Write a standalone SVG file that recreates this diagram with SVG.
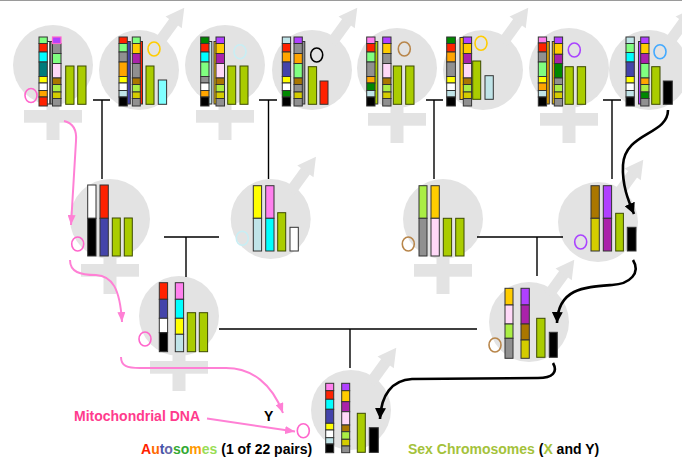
<svg xmlns="http://www.w3.org/2000/svg" xmlns:xlink="http://www.w3.org/1999/xlink" width="682" height="460" viewBox="0 0 682 460">
<style>
.sym{fill:#e3e3e3}
.c{stroke:#333;stroke-width:1}
.x{fill:#aacc00;stroke:#3d4a00;stroke-width:1}
.mt{fill:none;stroke-width:1.6}
.ln{fill:none;stroke:#000;stroke-width:1.4}
.pk{fill:none;stroke:#ff80d5;stroke-width:2}
.bk{fill:none;stroke:#000;stroke-width:2.6}
text{font-family:"Liberation Sans",Arial,sans-serif;font-weight:bold;font-size:14px}
</style>
<defs>
  <!-- Venus sign: circle with a cross below -->
  <g id="female" class="sym">
    <circle r="40"/>
    <rect x="-6.5" y="35" width="13" height="40"/>
    <rect x="-29" y="45" width="58" height="12.7"/>
  </g>
  <!-- Mars sign: circle with an arrow to the upper right -->
  <g id="male" class="sym">
    <circle r="40"/>
    <g transform="rotate(-54)">
      <rect x="34" y="-5.5" width="28" height="11"/>
      <polygon points="59,-10 77,0 59,10"/>
    </g>
  </g>
  <marker id="ap" markerUnits="userSpaceOnUse" viewBox="0 0 10 8" markerWidth="10" markerHeight="8" refX="10" refY="4" orient="auto">
    <path d="M0,0 L10,4 L0,8 z" fill="#ff80d5"/>
  </marker>
  <marker id="ab" markerUnits="userSpaceOnUse" viewBox="0 0 10 10" markerWidth="11" markerHeight="11" refX="10" refY="5" orient="auto">
    <path d="M0,0 L10,5 L0,10 z" fill="#000"/>
  </marker>
</defs>

<line x1="0" y1="0.5" x2="682" y2="0.5" stroke="#9a9a9a" stroke-width="1"/>

<!-- generation 1 -->
<g id="female-1">
  <use href="#female" x="53" y="65"/>
  <rect class="c" x="41.5" y="41.5" width="8.3" height="62.5" fill="#fff"/>
  <g class="c">
    <rect x="39" y="37" width="8.3" height="6.5" fill="#80ff80"/>
    <rect x="39" y="43.5" width="8.3" height="8.5" fill="#ff2200"/>
    <rect x="39" y="52" width="8.3" height="10" fill="#00ffff"/>
    <rect x="39" y="62" width="8.3" height="14.5" fill="#007b7b"/>
    <rect x="39" y="76.5" width="8.3" height="6.5" fill="#ffff00"/>
    <rect x="39" y="83" width="8.3" height="7.5" fill="#fff"/>
    <rect x="39" y="90.5" width="8.3" height="6.5" fill="#ffa500"/>
    <rect x="39" y="97" width="8.3" height="9" fill="#ff2200"/>
  </g>
  <rect class="c" x="50.3" y="41.5" width="8.3" height="62.5" fill="#909090"/>
  <g class="c">
    <rect x="52.5" y="43.5" width="8.5" height="10" fill="#909090"/>
    <rect x="52.5" y="53.5" width="8.5" height="10" fill="#80ff80"/>
    <rect x="52.5" y="63.5" width="8.5" height="14.5" fill="#ffd9f8"/>
    <rect x="52.5" y="78" width="8.5" height="6.5" fill="#aa7700"/>
    <rect x="52.5" y="84.5" width="8.5" height="7.5" fill="#aaee44"/>
    <rect x="52.5" y="92" width="8.5" height="6.5" fill="#d4cc00"/>
    <rect x="52.5" y="98.5" width="8.5" height="7.5" fill="#909090"/>
  </g>
  <rect x="52.5" y="37" width="8.5" height="6.5" fill="#b040ff" stroke="#ff66cc" stroke-width="1.2"/>
  <rect class="x" x="65.7" y="66" width="8.3" height="38.3"/>
  <rect class="x" x="77.7" y="66" width="8.3" height="38.3"/>
  <ellipse class="mt" cx="31" cy="95.5" rx="6" ry="7" stroke="#ff66cc"/>
</g>

<g id="male-2">
  <use href="#male" x="139" y="70"/>
  <rect class="c" x="122" y="41.5" width="8.3" height="62.5" fill="#4444aa"/>
  <g class="c">
    <rect x="119" y="37" width="8.3" height="6.5" fill="#ff2200"/>
    <rect x="119" y="43.5" width="8.3" height="8.5" fill="#80ff80"/>
    <rect x="119" y="52" width="8.3" height="10" fill="#909090"/>
    <rect x="119" y="62" width="8.3" height="14.5" fill="#ffa500"/>
    <rect x="119" y="76.5" width="8.3" height="6.5" fill="#ffff00"/>
    <rect x="119" y="83" width="8.3" height="7.5" fill="#fff"/>
    <rect x="119" y="90.5" width="8.3" height="6.5" fill="#c0e4e8"/>
    <rect x="119" y="97" width="8.3" height="9" fill="#000"/>
  </g>
  <rect class="c" x="134.5" y="41.5" width="8" height="62.5" fill="#ff2200"/>
  <g class="c">
    <rect x="132.3" y="37" width="8" height="6.5" fill="#80ff80"/>
    <rect x="132.3" y="43.5" width="8" height="10" fill="#ffcc00"/>
    <rect x="132.3" y="53.5" width="8" height="10" fill="#aa22aa"/>
    <rect x="132.3" y="63.5" width="8" height="14.5" fill="#909090"/>
    <rect x="132.3" y="78" width="8" height="6.5" fill="#aa7700"/>
    <rect x="132.3" y="84.5" width="8" height="7.5" fill="#aaee44"/>
    <rect x="132.3" y="92" width="8" height="6.5" fill="#d4cc00"/>
    <rect x="132.3" y="98.5" width="8" height="7.5" fill="#909090"/>
  </g>
  <rect class="x" x="146" y="66" width="8" height="38.3"/>
  <rect class="c" x="158.3" y="80" width="8.3" height="24.3" fill="#80ffff"/>
  <ellipse class="mt" cx="154" cy="49" rx="6" ry="7" stroke="#ffcc00"/>
</g>

<g id="female-3">
  <use href="#female" x="225" y="65"/>
  <rect class="c" x="203.5" y="41.5" width="8.3" height="62.5" fill="#c0e4e8"/>
  <g class="c">
    <rect x="200.7" y="37" width="8.3" height="6.5" fill="#008800"/>
    <rect x="200.7" y="43.5" width="8.3" height="8.5" fill="#ff2200"/>
    <rect x="200.7" y="52" width="8.3" height="10" fill="#00ffff"/>
    <rect x="200.7" y="62" width="8.3" height="14.5" fill="#80ff80"/>
    <rect x="200.7" y="76.5" width="8.3" height="6.5" fill="#909090"/>
    <rect x="200.7" y="83" width="8.3" height="7.5" fill="#fff"/>
    <rect x="200.7" y="90.5" width="8.3" height="6.5" fill="#ffa500"/>
    <rect x="200.7" y="97" width="8.3" height="9" fill="#000"/>
  </g>
  <rect class="c" x="214" y="41.5" width="8.3" height="62.5" fill="#ffcc00"/>
  <g class="c">
    <rect x="216" y="37" width="8.5" height="6.5" fill="#b040ff"/>
    <rect x="216" y="43.5" width="8.5" height="10" fill="#ffcc00"/>
    <rect x="216" y="53.5" width="8.5" height="10" fill="#aa22aa"/>
    <rect x="216" y="63.5" width="8.5" height="14.5" fill="#ffd9f8"/>
    <rect x="216" y="78" width="8.5" height="6.5" fill="#aa7700"/>
    <rect x="216" y="84.5" width="8.5" height="7.5" fill="#aaee44"/>
    <rect x="216" y="92" width="8.5" height="6.5" fill="#d4cc00"/>
    <rect x="216" y="98.5" width="8.5" height="7.5" fill="#909090"/>
  </g>
  <rect class="x" x="227.7" y="66" width="8" height="38.3"/>
  <rect class="x" x="240" y="66" width="8" height="38.3"/>
  <ellipse class="mt" cx="240" cy="51.7" rx="6" ry="7" stroke="#c8eef4"/>
</g>

<g id="male-4">
  <use href="#male" x="312" y="70"/>
  <g class="c">
    <rect x="282.3" y="37" width="8.3" height="6.5" fill="#c0e4e8"/>
    <rect x="282.3" y="43.5" width="8.3" height="8.5" fill="#ff2200"/>
    <rect x="282.3" y="52" width="8.3" height="10" fill="#ffa500"/>
    <rect x="282.3" y="62" width="8.3" height="14.5" fill="#4444aa"/>
    <rect x="282.3" y="76.5" width="8.3" height="6.5" fill="#ffff00"/>
    <rect x="282.3" y="83" width="8.3" height="7.5" fill="#fff"/>
    <rect x="282.3" y="90.5" width="8.3" height="6.5" fill="#008800"/>
    <rect x="282.3" y="97" width="8.3" height="9" fill="#000"/>
  </g>
  <rect class="c" x="296.5" y="41.5" width="8.3" height="62.5" fill="#909090"/>
  <g class="c">
    <rect x="294" y="37" width="8.3" height="6.5" fill="#b040ff"/>
    <rect x="294" y="43.5" width="8.3" height="10" fill="#909090"/>
    <rect x="294" y="53.5" width="8.3" height="10" fill="#ffa500"/>
    <rect x="294" y="63.5" width="8.3" height="14.5" fill="#80ff80"/>
    <rect x="294" y="78" width="8.3" height="6.5" fill="#aa7700"/>
    <rect x="294" y="84.5" width="8.3" height="7.5" fill="#909090"/>
    <rect x="294" y="92" width="8.3" height="6.5" fill="#d4cc00"/>
    <rect x="294" y="98.5" width="8.3" height="7.5" fill="#909090"/>
  </g>
  <rect class="x" x="308.3" y="66.7" width="8.3" height="37.6"/>
  <rect class="c" x="320" y="81" width="8" height="23.3" fill="#ff2200"/>
  <ellipse class="mt" cx="316.7" cy="55" rx="6" ry="7" stroke="#000"/>
</g>

<g id="female-5">
  <use href="#female" x="397" y="68"/>
  <rect class="c" x="369.5" y="41.5" width="8.3" height="62.5" fill="#aacc00"/>
  <g class="c">
    <rect x="366.7" y="37" width="8.3" height="6.5" fill="#ff80ee"/>
    <rect x="366.7" y="43.5" width="8.3" height="8.5" fill="#ff2200"/>
    <rect x="366.7" y="52" width="8.3" height="10" fill="#80ff80"/>
    <rect x="366.7" y="62" width="8.3" height="14.5" fill="#909090"/>
    <rect x="366.7" y="76.5" width="8.3" height="6.5" fill="#ffa500"/>
    <rect x="366.7" y="83" width="8.3" height="7.5" fill="#008800"/>
    <rect x="366.7" y="90.5" width="8.3" height="6.5" fill="#c0e4e8"/>
    <rect x="366.7" y="97" width="8.3" height="9" fill="#000"/>
  </g>
  <g class="c">
    <rect x="382.7" y="37" width="8.3" height="6.5" fill="#b040ff"/>
    <rect x="382.7" y="43.5" width="8.3" height="10" fill="#ffcc00"/>
    <rect x="382.7" y="53.5" width="8.3" height="10" fill="#909090"/>
    <rect x="382.7" y="63.5" width="8.3" height="14.5" fill="#ffd9f8"/>
    <rect x="382.7" y="78" width="8.3" height="6.5" fill="#aa7700"/>
    <rect x="382.7" y="84.5" width="8.3" height="7.5" fill="#aaee44"/>
    <rect x="382.7" y="92" width="8.3" height="6.5" fill="#d4cc00"/>
    <rect x="382.7" y="98.5" width="8.3" height="7.5" fill="#909090"/>
  </g>
  <rect class="x" x="393.3" y="66" width="8.3" height="38.3"/>
  <rect class="x" x="405.7" y="66" width="8.3" height="38.3"/>
  <ellipse class="mt" cx="404.3" cy="49" rx="6" ry="7" stroke="#b8864b"/>
</g>

<g id="male-6">
  <use href="#male" x="483" y="70"/>
  <g class="c">
    <rect x="446.7" y="37" width="8.7" height="6.5" fill="#008800"/>
    <rect x="446.7" y="43.5" width="8.7" height="8.5" fill="#ff2200"/>
    <rect x="446.7" y="52" width="8.7" height="10" fill="#ffa500"/>
    <rect x="446.7" y="62" width="8.7" height="14.5" fill="#909090"/>
    <rect x="446.7" y="76.5" width="8.7" height="6.5" fill="#ffff00"/>
    <rect x="446.7" y="83" width="8.7" height="7.5" fill="#fff"/>
    <rect x="446.7" y="90.5" width="8.7" height="6.5" fill="#c0e4e8"/>
    <rect x="446.7" y="97" width="8.7" height="9" fill="#000"/>
  </g>
  <rect class="c" x="460" y="37.5" width="8" height="62" fill="#ffcc00"/>
  <g class="c">
    <rect x="463.3" y="37" width="8.3" height="6.5" fill="#b040ff"/>
    <rect x="463.3" y="43.5" width="8.3" height="10" fill="#ffcc00"/>
    <rect x="463.3" y="53.5" width="8.3" height="10" fill="#aa22aa"/>
    <rect x="463.3" y="63.5" width="8.3" height="14.5" fill="#ffd9f8"/>
    <rect x="463.3" y="78" width="8.3" height="6.5" fill="#aa7700"/>
    <rect x="463.3" y="84.5" width="8.3" height="7.5" fill="#aaee44"/>
    <rect x="463.3" y="92" width="8.3" height="6.5" fill="#d4cc00"/>
    <rect x="463.3" y="98.5" width="8.3" height="7.5" fill="#909090"/>
  </g>
  <rect class="x" x="472.7" y="61" width="8" height="38.3"/>
  <rect class="c" x="485" y="75.7" width="8.3" height="23.6" fill="#c0e4e8"/>
  <ellipse class="mt" cx="481" cy="43.3" rx="6" ry="7" stroke="#ffcc00"/>
</g>

<g id="female-7">
  <use href="#female" x="569" y="68"/>
  <rect class="c" x="541" y="41.5" width="8.3" height="62.5" fill="#e0a000"/>
  <g class="c">
    <rect x="538.3" y="37" width="8.3" height="6" fill="#ff80ee"/>
    <rect x="538.3" y="43" width="8.3" height="9" fill="#ff2200"/>
    <rect x="538.3" y="52" width="8.3" height="10" fill="#909090"/>
    <rect x="538.3" y="62" width="8.3" height="14.5" fill="#80ff80"/>
    <rect x="538.3" y="76.5" width="8.3" height="6.5" fill="#ffff00"/>
    <rect x="538.3" y="83" width="8.3" height="7.5" fill="#ffa500"/>
    <rect x="538.3" y="90.5" width="8.3" height="6.5" fill="#c0e4e8"/>
    <rect x="538.3" y="97" width="8.3" height="9" fill="#000"/>
  </g>
  <rect class="c" x="552.3" y="41.5" width="8.3" height="62.5" fill="#ffcc00"/>
  <g class="c">
    <rect x="554.3" y="37" width="8.3" height="6.5" fill="#b040ff"/>
    <rect x="554.3" y="43.5" width="8.3" height="10.8" fill="#ffcc00"/>
    <rect x="554.3" y="54.3" width="8.3" height="9.2" fill="#aa22aa"/>
    <rect x="554.3" y="63.5" width="8.3" height="14.5" fill="#008800"/>
    <rect x="554.3" y="78" width="8.3" height="6.5" fill="#909090"/>
    <rect x="554.3" y="84.5" width="8.3" height="7.5" fill="#aaee44"/>
    <rect x="554.3" y="92" width="8.3" height="6.5" fill="#d4cc00"/>
    <rect x="554.3" y="98.5" width="8.3" height="7.5" fill="#909090"/>
  </g>
  <rect class="x" x="565" y="66.7" width="8.3" height="37.6"/>
  <rect class="x" x="577.3" y="66.7" width="8.3" height="37.6"/>
  <ellipse class="mt" cx="574.3" cy="50" rx="6" ry="7" stroke="#aa44ff"/>
</g>

<g id="male-8">
  <use href="#male" x="649" y="70"/>
  <g class="c">
    <rect x="626" y="37" width="8.3" height="6.5" fill="#c0e4e8"/>
    <rect x="626" y="43.5" width="8.3" height="9" fill="#80ff80"/>
    <rect x="626" y="52.5" width="8.3" height="9.5" fill="#00ffff"/>
    <rect x="626" y="62" width="8.3" height="14.5" fill="#4444aa"/>
    <rect x="626" y="76.5" width="8.3" height="6.5" fill="#ffff00"/>
    <rect x="626" y="83" width="8.3" height="7.5" fill="#fff"/>
    <rect x="626" y="90.5" width="8.3" height="6.5" fill="#c0e4e8"/>
    <rect x="626" y="97" width="8.3" height="9" fill="#000"/>
  </g>
  <rect class="c" x="638.5" y="41.5" width="8.3" height="62.5" fill="#b040ff"/>
  <g class="c">
    <rect x="640.7" y="37" width="8.3" height="6.5" fill="#b040ff"/>
    <rect x="640.7" y="43.5" width="8.3" height="10" fill="#ffcc00"/>
    <rect x="640.7" y="53.5" width="8.3" height="10" fill="#aa22aa"/>
    <rect x="640.7" y="63.5" width="8.3" height="14.5" fill="#80ff80"/>
    <rect x="640.7" y="78" width="8.3" height="6.5" fill="#ffa500"/>
    <rect x="640.7" y="84.5" width="8.3" height="7.5" fill="#aaee44"/>
    <rect x="640.7" y="92" width="8.3" height="6.5" fill="#008800"/>
    <rect x="640.7" y="98.5" width="8.3" height="7.5" fill="#909090"/>
  </g>
  <rect class="x" x="651.7" y="66.7" width="8.3" height="37.6"/>
  <rect class="c" x="663.3" y="81" width="9" height="23.3" fill="#000"/>
  <ellipse class="mt" cx="660" cy="51.7" rx="6" ry="7" stroke="#44aaff"/>
</g>

<!-- generation 2 -->
<g id="female-9">
  <use href="#female" x="110" y="219"/>
  <g class="c">
    <rect x="87.7" y="185" width="8.3" height="33.3" fill="#fff"/>
    <rect x="87.7" y="218.3" width="8.3" height="37.7" fill="#000"/>
    <rect x="100" y="185" width="8.3" height="33.3" fill="#ff2200"/>
    <rect x="100" y="218.3" width="8.3" height="37.7" fill="#4444aa"/>
  </g>
  <rect class="x" x="112.3" y="218" width="8" height="38"/>
  <rect class="x" x="124.3" y="218" width="8" height="38"/>
  <ellipse class="mt" cx="77.7" cy="244" rx="6" ry="7" stroke="#ff66cc"/>
</g>

<g id="male-10">
  <use href="#male" x="270.7" y="219"/>
  <g class="c">
    <rect x="253.3" y="185.7" width="8.3" height="32.6" fill="#ffff00"/>
    <rect x="253.3" y="218.3" width="8.3" height="32.7" fill="#c0e4e8"/>
    <rect x="265.7" y="185.7" width="8.3" height="32.6" fill="#ff80ee"/>
    <rect x="265.7" y="218.3" width="8.3" height="32.7" fill="#00ffff"/>
  </g>
  <rect class="x" x="277.7" y="212.7" width="8" height="38.3"/>
  <rect class="c" x="290" y="227.3" width="8.3" height="23.7" fill="#fff"/>
  <ellipse class="mt" cx="242.3" cy="238.3" rx="6" ry="7" stroke="#c8eef4"/>
</g>

<g id="female-11">
  <use href="#female" x="443" y="219"/>
  <g class="c">
    <rect x="419" y="185.7" width="8" height="32.6" fill="#aaee44"/>
    <rect x="419" y="218.3" width="8" height="37.7" fill="#909090"/>
    <rect x="431" y="185.7" width="8.3" height="32.6" fill="#ffcc00"/>
    <rect x="431" y="218.3" width="8.3" height="37.7" fill="#ffd9f8"/>
  </g>
  <rect class="x" x="443.3" y="218.3" width="8.3" height="37.7"/>
  <rect class="x" x="455.7" y="218.3" width="8.3" height="37.7"/>
  <ellipse class="mt" cx="408.3" cy="244" rx="6" ry="7" stroke="#b8864b"/>
</g>

<g id="male-12">
  <use href="#male" x="598" y="222"/>
  <g class="c">
    <rect x="591" y="185.7" width="8.3" height="32.6" fill="#aa7700"/>
    <rect x="591" y="218.3" width="8.3" height="32.7" fill="#d4cc00"/>
    <rect x="603.3" y="185.7" width="8.3" height="32.6" fill="#b040ff"/>
    <rect x="603.3" y="218.3" width="8.3" height="32.7" fill="#aa22aa"/>
  </g>
  <rect class="x" x="615.7" y="213.3" width="7.7" height="37.7"/>
  <rect class="c" x="627.3" y="227.3" width="8.7" height="23.7" fill="#000"/>
  <ellipse class="mt" cx="580.7" cy="242" rx="6" ry="7" stroke="#aa44ff"/>
</g>

<!-- generation 3 -->
<g id="female-13">
  <use href="#female" x="179" y="316"/>
  <g class="c">
    <rect x="159.3" y="282.7" width="8.3" height="16.6" fill="#ff2200"/>
    <rect x="159.3" y="299.3" width="8.3" height="19" fill="#4444aa"/>
    <rect x="159.3" y="318.3" width="8.3" height="14.4" fill="#fff"/>
    <rect x="159.3" y="332.7" width="8.3" height="19" fill="#000"/>
    <rect x="175.3" y="282.7" width="8.3" height="16.6" fill="#ff80ee"/>
    <rect x="175.3" y="299.3" width="8.3" height="19" fill="#00ffff"/>
    <rect x="175.3" y="318.3" width="8.3" height="16" fill="#ffff00"/>
    <rect x="175.3" y="334.3" width="8.3" height="17.4" fill="#c0e4e8"/>
  </g>
  <rect class="x" x="187.3" y="312.7" width="8.3" height="39"/>
  <rect class="x" x="199.3" y="312.7" width="8.3" height="39"/>
  <ellipse class="mt" cx="145" cy="339" rx="6" ry="7" stroke="#ff66cc"/>
</g>

<g id="male-14">
  <use href="#male" x="529" y="322"/>
  <g class="c">
    <rect x="505" y="288.3" width="8" height="16.7" fill="#ffcc00"/>
    <rect x="505" y="305" width="8" height="19" fill="#ffd9f8"/>
    <rect x="505" y="324" width="8" height="14.3" fill="#aaee44"/>
    <rect x="505" y="338.3" width="8" height="20" fill="#909090"/>
    <rect x="521" y="288.3" width="8.3" height="16.7" fill="#b040ff"/>
    <rect x="521" y="305" width="8.3" height="19" fill="#aa22aa"/>
    <rect x="521" y="324" width="8.3" height="16" fill="#aa7700"/>
    <rect x="521" y="340" width="8.3" height="18.3" fill="#d4cc00"/>
  </g>
  <rect class="x" x="536.7" y="318.3" width="8.3" height="39"/>
  <rect class="c" x="549.3" y="332.3" width="8" height="25" fill="#000"/>
  <ellipse class="mt" cx="495" cy="345" rx="6" ry="7" stroke="#b8864b"/>
</g>

<!-- generation 4 -->
<g id="male-15">
  <use href="#male" x="351" y="410"/>
  <g class="c">
    <rect x="325.7" y="383.3" width="8" height="7.4" fill="#ff80ee"/>
    <rect x="325.7" y="390.7" width="8" height="8.6" fill="#ff2200"/>
    <rect x="325.7" y="399.3" width="8" height="10" fill="#00ffff"/>
    <rect x="325.7" y="409.3" width="8" height="14" fill="#4444aa"/>
    <rect x="325.7" y="423.3" width="8" height="6.7" fill="#ffff00"/>
    <rect x="325.7" y="430" width="8" height="7.7" fill="#fff"/>
    <rect x="325.7" y="437.7" width="8" height="6.3" fill="#c0e4e8"/>
    <rect x="325.7" y="444" width="8" height="8.7" fill="#000"/>
    <rect x="341.7" y="383.3" width="8" height="7.4" fill="#b040ff"/>
    <rect x="341.7" y="390.7" width="8" height="11" fill="#ffcc00"/>
    <rect x="341.7" y="401.7" width="8" height="10" fill="#aa22aa"/>
    <rect x="341.7" y="411.7" width="8" height="13.3" fill="#ffd9f8"/>
    <rect x="341.7" y="425" width="8" height="6.7" fill="#aa7700"/>
    <rect x="341.7" y="431.7" width="8" height="7.6" fill="#aaee44"/>
    <rect x="341.7" y="439.3" width="8" height="6.7" fill="#d4cc00"/>
    <rect x="341.7" y="446" width="8" height="6.7" fill="#909090"/>
  </g>
  <rect class="x" x="357.3" y="413.3" width="8" height="39"/>
  <rect class="c" x="369.3" y="427.7" width="9" height="24.7" fill="#000"/>
  <ellipse class="mt" cx="303.3" cy="430.7" rx="6" ry="7" stroke="#ff66cc"/>
</g>

<!-- pedigree lines and inheritance arrows -->
<g id="connectors">
  <path class="ln" d="M93,100 H110 M102,100 V179"/>
  <path class="ln" d="M259,100 H277 M268.5,100 V179"/>
  <path class="ln" d="M426,100 H443 M434,100 V179"/>
  <path class="ln" d="M603,100 H621 M612,100 V179"/>
  <path class="ln" d="M164,237 H219 M186,237 V277"/>
  <path class="ln" d="M477,237 H563 M537,237 V276"/>
  <path class="ln" d="M219,329 H477 M350,329 V368"/>

  <path class="pk" marker-end="url(#ap)" d="M64,121 C73,123 77,129 76,141 L71,225"/>
  <path class="pk" marker-end="url(#ap)" d="M70,260 C70,272 80,275 96,275 C112,276 120,288 122,322"/>
  <path class="pk" marker-end="url(#ap)" d="M121,357 C121,366 127,368 140,368 L226,368 C252,368 272,384 283,413"/>
  <path class="pk" marker-end="url(#ap)" d="M207,418.5 L295,431.5"/>

  <path class="bk" marker-end="url(#ab)" d="M668,110 C668,135 625,132 623,165 C622,185 628,200 634,214"/>
  <path class="bk" marker-end="url(#ab)" d="M633,260 C641,273 630,284 612,285 C585,287 558,288 557,323"/>
  <path class="bk" marker-end="url(#ab)" d="M553,363 C558,372 553,378 538,378 L412,379 C392,380 381,395 380,419"/>
</g>

<g id="labels">
  <text x="74" y="420.5" fill="#ff3b8d">Mitochondrial DNA</text>
  <text x="264" y="420.5" fill="#000">Y</text>
  <text x="141" y="453.5"><tspan fill="#ff2200">A</tspan><tspan fill="#ff6a00">u</tspan><tspan fill="#4455aa">t</tspan><tspan fill="#6666aa">o</tspan><tspan fill="#33aa33">s</tspan><tspan fill="#33aa33">o</tspan><tspan fill="#ff9900">m</tspan><tspan fill="#99dd55">e</tspan><tspan fill="#99dd55">s</tspan><tspan fill="#000"> (1 of 22 pairs)</tspan></text>
  <text x="408" y="453.5"><tspan fill="#a4c23a">Sex Chromosomes </tspan><tspan fill="#000">(</tspan><tspan fill="#a4c23a">X</tspan><tspan fill="#000"> and Y)</tspan></text>
</g>
</svg>
